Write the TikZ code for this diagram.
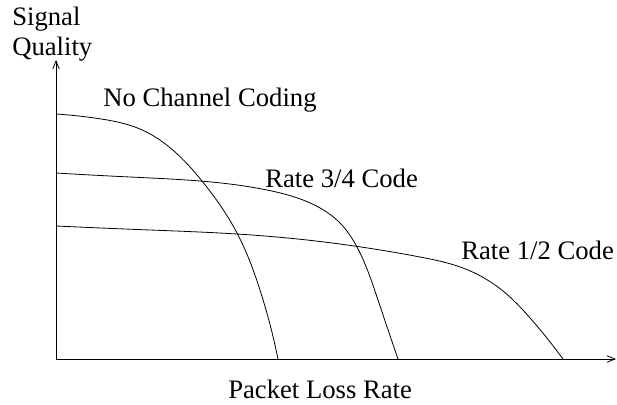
\documentclass[tikz,border=0pt]{standalone}
\usepackage{fontspec}
\setmainfont{Liberation Serif}
\usetikzlibrary{arrows.meta,hobby}
\tikzset{
  lbl/.style={anchor=base west, inner sep=0pt, font=\fontsize{20}{24}\selectfont},
  axis/.style={line width=0.6pt, -{Straight Barb[length=6pt,width=5pt]}},
  curve/.style={line width=0.6pt},
}
\begin{document}
\begin{tikzpicture}[x=0.75pt,y=-0.75pt]
\useasboundingbox (0,0) rectangle (617,404);
\coordinate (o) at (56,359);
\coordinate (ytip) at (56,60);
\coordinate (xtip) at (616,359);
\draw[axis] (o) -- (ytip);
\draw[axis] (o) -- (xtip);
\node[lbl] (sig) at (12,25) {Signal};
\node[lbl] (qual) at (12,55) {Quality};
\node[lbl] (xlab) at (228,398) {Packet Loss Rate};
\node[lbl] (nc) at (103,106) {No Channel Coding};
\node[lbl] (r34) at (265,187) {Rate 3/4 Code};
\node[lbl] (r12) at (461,259) {Rate 1/2 Code};
% no channel coding
\coordinate (a0) at (56,114);
\coordinate (a1) at (278,359);
\draw[curve] (a0) to[curve through={(98,118.5) (140,129) (202,181) (237,233) (260,290)}] (a1);
% rate 3/4
\coordinate (b0) at (56,173);
\coordinate (b1) at (398,359);
\draw[curve] (b0) to[curve through={(130,177) (200,181) (267,190) (303,200) (340,223) (357,247) (378,300)}] (b1);
% rate 1/2
\coordinate (c0) at (56,226);
\coordinate (c1) at (563,359);
\draw[curve] (c0) to[curve through={(150,230) (237,234) (307,240) (420,257) (463,268) (503,291) (531,319)}] (c1);
\end{tikzpicture}
\end{document}
